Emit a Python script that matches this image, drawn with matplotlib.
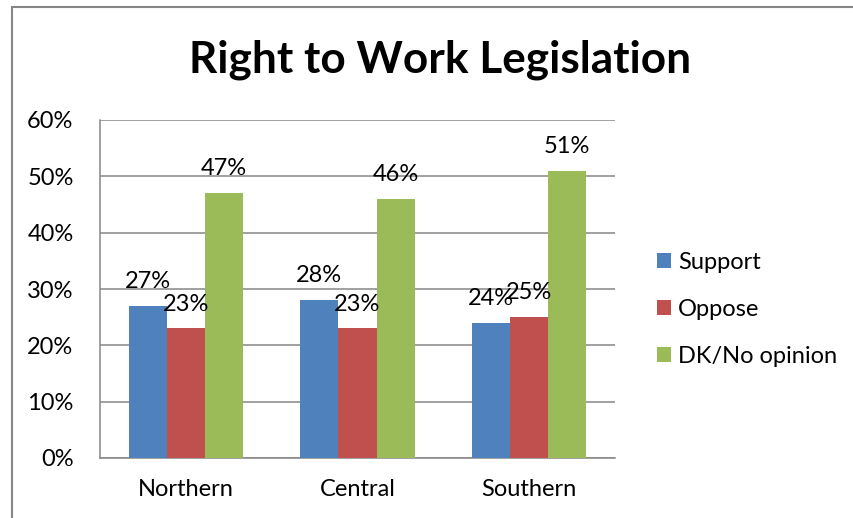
import numpy as np
import matplotlib.pyplot as plt
from matplotlib.patches import Rectangle

regions = ['Northern', 'Central', 'Southern']
series = ['Support', 'Oppose', 'DK/No opinion']
support = [27, 28, 24]
oppose = [23, 23, 25]
dk = [47, 46, 51]
colors = ['#4F81BD', '#C0504D', '#9BBB59']

plt.rcParams['font.family'] = ['Lato', 'DejaVu Sans']
fs = 17

fig = plt.figure(figsize=(8.54, 5.18), dpi=100)
ax = fig.add_axes([100/854, 60/518, 515/854, 338/518])

# chart border (Excel style), runs off right/bottom edge
fig.patches.append(Rectangle((12/854, -0.1), 1.2, (518-7)/518 + 0.1, transform=fig.transFigure,
                             fill=False, edgecolor='#868686', linewidth=1.5))

x = np.arange(len(regions))
w = 1 / 4.5
for i, (vals, name) in enumerate(zip([support, oppose, dk], series)):
    bars = ax.bar(x + (i - 1) * w, vals, w, color=colors[i], label=name, zorder=3)
    for b, v in zip(bars, vals):
        ax.annotate('%d%%' % v, (b.get_x() + b.get_width() / 2, v), xytext=(0, 10),
                    textcoords='offset points', ha='center', va='bottom', fontsize=fs, zorder=4)

ax.set_xlim(-0.5, 2.5)
ax.set_ylim(0, 60)
ax.set_yticks(range(0, 61, 10))
ax.set_yticklabels(['%d%%' % t for t in range(0, 61, 10)], fontsize=fs)
ax.set_xticks(x)
ax.set_xticklabels(regions, fontsize=fs)
ax.tick_params(axis='y', length=0, pad=19)
ax.tick_params(axis='x', length=0, pad=15)
ax.grid(axis='y', color='#868686', linewidth=1.1, zorder=0)
for s in ['top', 'right']:
    ax.spines[s].set_visible(False)
for s in ['left', 'bottom']:
    ax.spines[s].set_color('#868686')
    ax.spines[s].set_linewidth(1.1)

fig.text(440/854, 1 - 60/518, 'Right to Work Legislation', ha='center', va='center',
         fontsize=31.8, fontweight='bold')

ax.legend(loc='center left', bbox_to_anchor=(1.04, 0.44), frameon=False, fontsize=fs,
          handlelength=0.6, handleheight=0.6, handletextpad=0.3, labelspacing=1.1)

fig.savefig('out.png', dpi=100)
